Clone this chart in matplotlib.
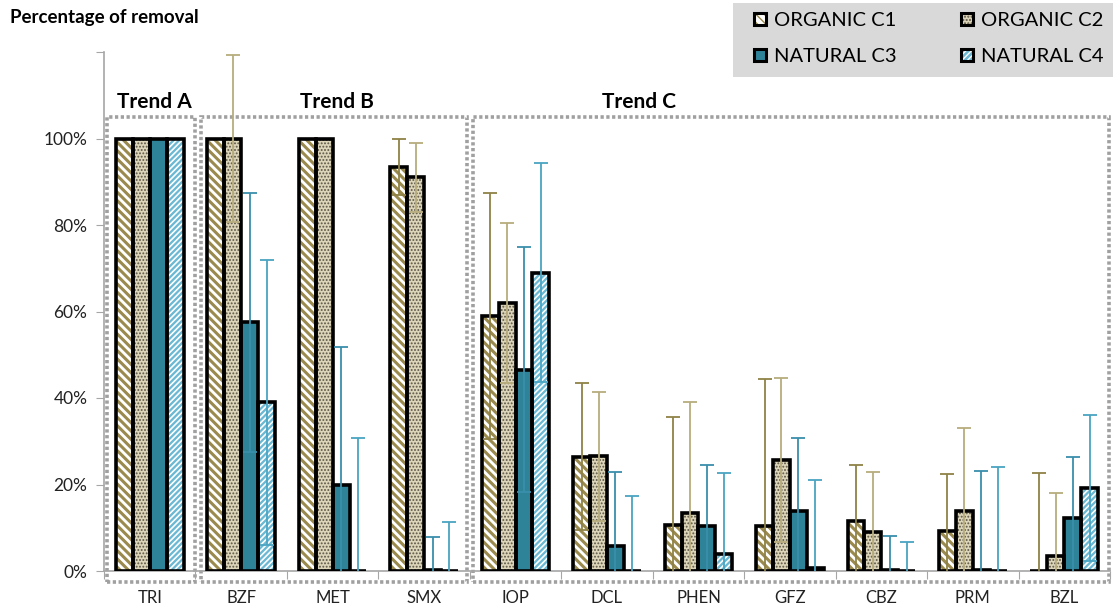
import numpy as np
import matplotlib
matplotlib.use("Agg")
import matplotlib.pyplot as plt
from matplotlib.patches import Rectangle, Patch

plt.rcParams['font.family'] = ['Lato', 'DejaVu Sans']

categories = ["TRI", "BZF", "MET", "SMX", "IOP", "DCL", "PHEN", "GFZ", "CBZ", "PRM", "BZL"]
series_names = ["ORGANIC C1", "ORGANIC C2", "NATURAL C3", "NATURAL C4"]

organic_c1 = [100, 100, 100, 93.5, 59, 26.4, 10.6, 10.3, 11.6, 9.2, 0]
organic_c2 = [100, 100, 100, 91, 62, 26.5, 13.5, 25.6, 9, 13.9, 3.5]
natural_c3 = [100, 57.5, 19.8, 0.3, 46.5, 5.8, 10.3, 13.8, 0.3, 0.3, 12.3]
natural_c4 = [100, 39, 0, 0, 69, 0, 4, 0.7, 0, 0, 19.2]

err_c1 = [None, None, None, 6.5, 28.5, 17, 25, 34, 13, 13.3, 22.7]
err_c2 = [None, 19.2, None, 8, 18.5, 15, 25.5, 19, 14, 19.2, 14.5]
err_c3 = [None, 30, 32, 7.6, 28.3, 17, 14.2, 17, 7.7, 22.8, 14.1]
err_c4 = [None, 33, 30.8, 11.3, 25.4, 17.4, 18.7, 20.3, 6.7, 24.1, 16.9]

y_ticks = [0, 20, 40, 60, 80, 100, 120]
y_tick_labels = ["0%", "20%", "40%", "60%", "80%", "100%", ""]

trends = [("Trend A", -0.47, 0.495), ("Trend B", 0.56, 3.47), ("Trend C", 3.54, 10.49)]

values = [organic_c1, organic_c2, natural_c3, natural_c4]
errors = [err_c1, err_c2, err_c3, err_c4]

fills = ["white", "#ddd5b9", "#2e8399", "#6ab8d3"]
hatches = ["\\\\\\\\", ".....", "", "//////"]
hatch_cols = ["#9a8a4e", "#5a5444", "#2e8399", "white"]
hatch_lw = [2.2, 0.9, 1.0, 1.2]
err_cols = ["#8f8246", "#b8ad7e", "#3a8fab", "#4aa5c2"]

fig = plt.figure(figsize=(11.15, 6.15), dpi=100)
ax = fig.add_axes([104/1115, (615-571)/615, (1110-104)/1115, (571-52)/615])

x = np.arange(len(categories))
w = 0.185
offsets = [-1.5*w, -0.5*w, 0.5*w, 1.5*w]

for i in range(4):
    pos = x + offsets[i]
    with plt.rc_context({'hatch.linewidth': hatch_lw[i]}):
        ax.bar(pos, values[i], width=w, color=fills[i], hatch=hatches[i],
               edgecolor=hatch_cols[i], linewidth=0, zorder=2)
    ax.bar(pos, values[i], width=w, color='none', edgecolor='black',
           linewidth=2.6, zorder=3)

for i in range(4):
    pos = x + offsets[i]
    px = [p for p, e in zip(pos, errors[i]) if e is not None]
    py = [v for v, e in zip(values[i], errors[i]) if e is not None]
    pe = [e for e in errors[i] if e is not None]
    ax.errorbar(px, py, yerr=pe, fmt='none', ecolor=err_cols[i],
                elinewidth=1.3, capsize=5, capthick=1.3, zorder=4)

ax.set_xlim(-0.5, len(categories) - 0.5)
ax.set_ylim(0, 120)
ax.set_yticks(y_ticks)
ax.set_yticklabels(y_tick_labels, fontsize=12.5, color='#222222')
ax.set_xticks(np.arange(len(categories) + 1) - 0.5)
ax.set_xticklabels([])
ax.set_xticks(x, minor=True)
ax.set_xticklabels(categories, minor=True, fontsize=12, color='#222222')
ax.tick_params(axis='x', which='major', length=6, color='#a6a6a6', direction='out')
ax.tick_params(axis='x', which='minor', length=0, pad=14)
ax.tick_params(axis='y', length=6, color='#a6a6a6', direction='out', pad=6)
for s in ['top', 'right']:
    ax.spines[s].set_visible(False)
for s in ['left', 'bottom']:
    ax.spines[s].set_color('#a6a6a6')
    ax.spines[s].set_linewidth(1.2)

for name, x0, x1 in trends:
    r = Rectangle((x0, -2.5), x1 - x0, 107.4, fill=False, edgecolor='#a0a0a0',
                  linewidth=2.6, linestyle=(0, (0.9, 0.7)), clip_on=False, zorder=1)
    ax.add_patch(r)

ax.text(0.05, 108.5, "Trend A", ha='center', va='center', fontsize=15, fontweight='bold')
ax.text(2.05, 108.5, "Trend B", ha='center', va='center', fontsize=15, fontweight='bold')
ax.text(5.35, 108.5, "Trend C", ha='center', va='center', fontsize=15, fontweight='bold')

fig.text(10/1115, 1 - 18/615, "Percentage of removal", ha='left', va='center',
         fontsize=13.5, fontweight='bold')

handles = []
for i in range(4):
    with plt.rc_context({'hatch.linewidth': hatch_lw[i]}):
        h = Patch(facecolor=fills[i], hatch=hatches[i], edgecolor=hatch_cols[i], linewidth=0)
    handles.append(h)
legend_handles = [(h, Patch(facecolor='none', edgecolor='black', linewidth=2.2)) for h in handles]
order = [0, 2, 1, 3]
leg = fig.legend([legend_handles[k] for k in order], [series_names[k] for k in order],
                 ncol=2, loc='upper left', mode='expand',
                 bbox_to_anchor=(745/1115, 1 - 77/615, 368/1115, 74/615),
                 frameon=False,
                 fontsize=14.5, handlelength=0.6, handleheight=0.6, handletextpad=0.4,
                 borderpad=0.45, labelspacing=0.95, borderaxespad=0)
fig.patches.append(Rectangle((733/1115, 1 - 77/615), 380/1115, 74/615,
                             transform=fig.transFigure, facecolor='#d9d9d9',
                             edgecolor='none', zorder=0))
plt.savefig("out.png", dpi=100)
